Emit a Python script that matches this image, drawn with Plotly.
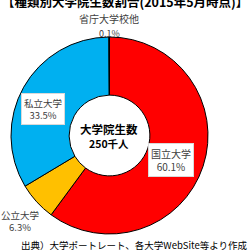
import plotly.graph_objects as go

labels = ["国立大学", "公立大学", "私立大学", "省庁大学校他"]
values = [60.1, 6.3, 33.5, 0.1]
colors = ["#FF0000", "#FFC000", "#00B0F0", "#A0A0A0"]
pct_text = ["60.1%", "6.3%", "33.5%", "0.1%"]
title_text = "【種類別大学院生数割合(2015年5月時点)】"
center_text = ["大学院生数", "250千人"]
source_text = "出典）大学ポートレート、各大学WebSite等より作成"

W = H = 250
def px(x):
    return x / W
def py(y):
    return 1 - y / H

FONT = "Noto Sans CJK JP"

fig = go.Figure(go.Pie(
    labels=labels, values=values, sort=False, direction="clockwise", rotation=0,
    hole=0.41, marker=dict(colors=colors, line=dict(color="#000000", width=1)),
    textinfo="none", hoverinfo="label+percent", showlegend=False,
    domain=dict(x=[px(11), px(208)], y=[py(234), py(37)]),
))

ann = []
def add(text, x, y, size, color="#404040", bold=False, box=False):
    d = dict(text=("<b>%s</b>" % text) if bold else text, x=px(x), y=py(y),
             xref="paper", yref="paper", showarrow=False,
             font=dict(family=FONT, size=size, color=color),
             xanchor="center", yanchor="middle")
    if box:
        d.update(bgcolor="#FFFFFF", bordercolor="#D9D9D9", borderwidth=1, borderpad=2)
    ann.append(d)

add(title_text, 125, 1, 12.5, color="#000000", bold=True)
add(labels[3], 109, 19, 10)
add(pct_text[3], 109, 33, 9)
add(labels[2] + "<br>" + pct_text[2], 43, 109, 9.5, box=True)
add(labels[0] + "<br>" + pct_text[0], 171, 160, 10, box=True)
add(labels[1] + "<br>" + pct_text[1], 20, 221, 9.5)
add(center_text[0], 109, 129, 11.5, color="#000000", bold=True)
add(center_text[1], 109, 143, 10.5, color="#000000", bold=True)
add(source_text, 134, 245, 9.5, color="#000000")

fig.update_layout(width=W, height=H, margin=dict(l=0, r=0, t=0, b=0),
                  paper_bgcolor="#FFFFFF", plot_bgcolor="#FFFFFF",
                  annotations=ann)
fig.write_html("out.html")
